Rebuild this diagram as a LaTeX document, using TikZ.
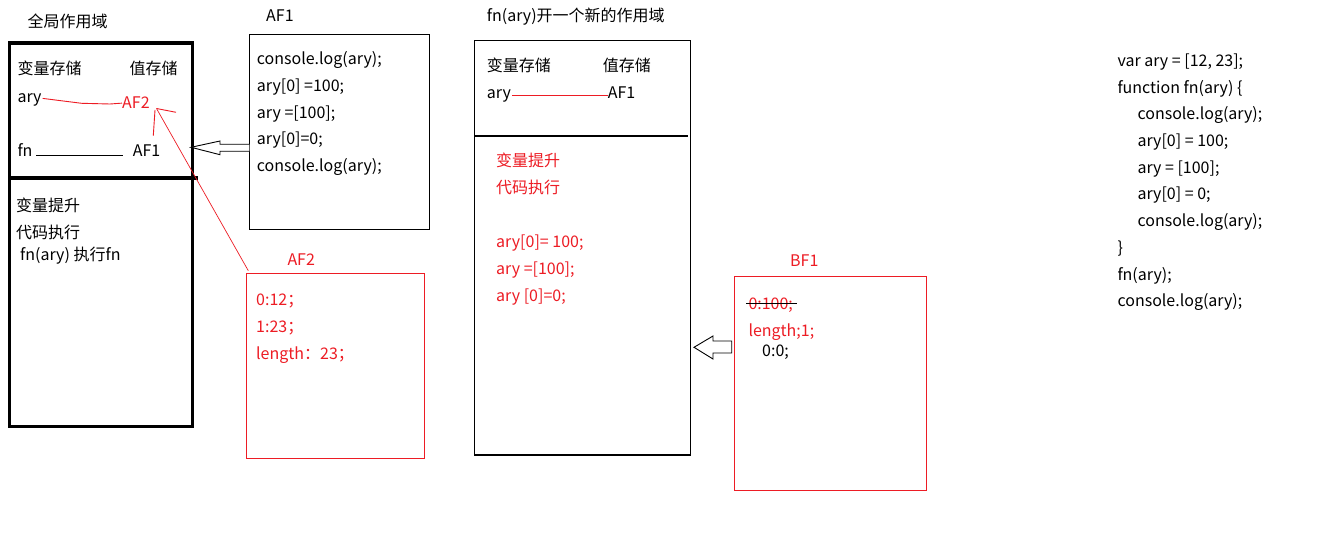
\documentclass[tikz,border=0pt]{standalone}
\usepackage{fontspec}
\setmainfont{Noto Sans CJK SC}
\begin{document}
\begin{tikzpicture}[x=1pt,y=-1pt,
  txt/.style={inner sep=0pt, anchor=base west, font=\fontsize{16}{19}\selectfont},
  rtxt/.style={txt, text=pred},
  thinbox/.style={draw=black, line width=1.1pt},
  redbox/.style={draw=pred, line width=1.1pt},
  redline/.style={draw=pred, line width=0.9pt},
  blockarrow/.style={draw=black, line width=0.9pt, fill=white}]
\definecolor{pred}{RGB}{237,28,36}
\useasboundingbox (0,0) rectangle (1327,540);
\fill[white] (0,0) rectangle (1327,540);

% ---------- global scope ----------
\node[txt] (gtitle) at (27.3,28) {全局作用域};
\draw[line width=3.3pt] (9.2,43) rectangle (192.5,426.5);
\coordinate (gdivl) at (9.2,178);
\coordinate (gdivr) at (198,178);
\draw[line width=3.3pt] (gdivl) -- (gdivr);
\node[txt] (gvar) at (17.3,75) {变量存储};
\node[txt] (gval) at (129.3,75) {值存储};
\node[txt] (gary) at (17.3,103) {ary};
\node[rtxt] (gaf2) at (122,109) {AF2};
\node[txt] (gfn) at (17.3,157) {fn};
\node[txt] (gaf1) at (132.7,157) {AF1};
\draw[redline] (gary.east) ++(1,-2) coordinate (garyend) -- (81.7,103.3) -- (110,104) -- (gaf2.west);
\draw[line width=0.9pt] (36,155.3) -- (122.7,155.3);
\node[txt] (gl1) at (16,211.7) {变量提升};
\node[txt] (gl2) at (16,238) {代码执行};
\node[txt] (gl3) at (20,260.7) {fn(ary) 执行fn};

% ---------- AF1 ----------
\node[txt] (af1title) at (266,22) {AF1};
\draw[thinbox] (249.3,34.7) rectangle (429.3,229.3);
\node[txt] (a1) at (256.7,65) {console.log(ary);};
\node[txt] (a2) at (256.7,91.7) {ary[0] =100;};
\node[txt] (a3) at (256.7,118.4) {ary =[100];};
\node[txt] (a4) at (256.7,145) {ary[0]=0;};
\node[txt] (a5) at (256.7,171.7) {console.log(ary);};
% hollow arrow AF1 -> global
\draw[blockarrow] (249.3,144.3) -- (220,144.3) -- (220,141) -- (191,147.3) -- (220,154.7) -- (220,151.3) -- (249.3,151.3);

% ---------- AF2 ----------
\node[rtxt] (af2title) at (287.3,265.7) {AF2};
\draw[redbox] (246.3,273.3) rectangle (424.3,458.3);
\coordinate (af2corner) at (248.3,270.7);
\node[rtxt] (b1) at (256,305) {0:12；};
\node[rtxt] (b2) at (256,332.7) {1:23；};
\node[rtxt] (b3) at (256,359) {length：23；};
\coordinate (arrtip) at (156.5,108.5);
\draw[draw=pred, line width=0.7pt] (af2corner) -- (arrtip);
\draw[redline] (arrtip) -- (176,112.3);
\draw[redline] (155,110) -- (153.3,135.7);

% ---------- fn scope ----------
\node[txt] (ftitle) at (486.7,21.7) {fn(ary)开一个新的作用域};
\draw[thinbox] (474.3,40.7) rectangle (690.3,455);
\draw[thinbox] (474.3,136) -- (687.7,136);
\node[txt] (fvar) at (486.7,71.7) {变量存储};
\node[txt] (fval) at (602.7,71.7) {值存储};
\node[txt] (fary) at (486.7,98.3) {ary};
\node[txt] (faf1) at (607.7,98.3) {AF1};
\draw[redline] (512,95.3) -- (608,95.3);
\node[rtxt] (f1) at (496,166.7) {变量提升};
\node[rtxt] (f2) at (496,193.3) {代码执行};
\node[rtxt] (f3) at (496,247.3) {ary[0]= 100;};
\node[rtxt] (f4) at (496,274.3) {ary =[100];};
\node[rtxt] (f5) at (496,301) {ary [0]=0;};

% ---------- BF1 ----------
\node[rtxt] (bf1title) at (790,266.7) {BF1};
\draw[redbox] (734.3,276.3) rectangle (926.3,490.7);
\node[rtxt] (c1) at (748.3,309.3) {0:100;};
\draw[line width=0.9pt] (746,303.3) -- (797,303.3);
\node[rtxt] (c2) at (748.3,336) {length;1;};
\node[txt] (c3) at (762,356) {0:0;};
\draw[blockarrow] (731.7,341) -- (713,341) -- (713,336) -- (694,347.3) -- (713,359) -- (713,353) -- (731.7,353) -- cycle;

% ---------- code ----------
\node[txt] (k1) at (1117.3,66.7) {var ary = [12, 23];};
\node[txt] (k2) at (1117.3,93.3) {function fn(ary) \{};
\node[txt] (k3) at (1137.3,120) {console.log(ary);};
\node[txt] (k4) at (1137.3,146.7) {ary[0] = 100;};
\node[txt] (k5) at (1137.3,173.3) {ary = [100];};
\node[txt] (k6) at (1137.3,200) {ary[0] = 0;};
\node[txt] (k7) at (1137.3,226.7) {console.log(ary);};
\node[txt] (k8) at (1117.3,253.3) {\}};
\node[txt] (k9) at (1117.3,280) {fn(ary);};
\node[txt] (k10) at (1117.3,306.7) {console.log(ary);};
\end{tikzpicture}
\end{document}
